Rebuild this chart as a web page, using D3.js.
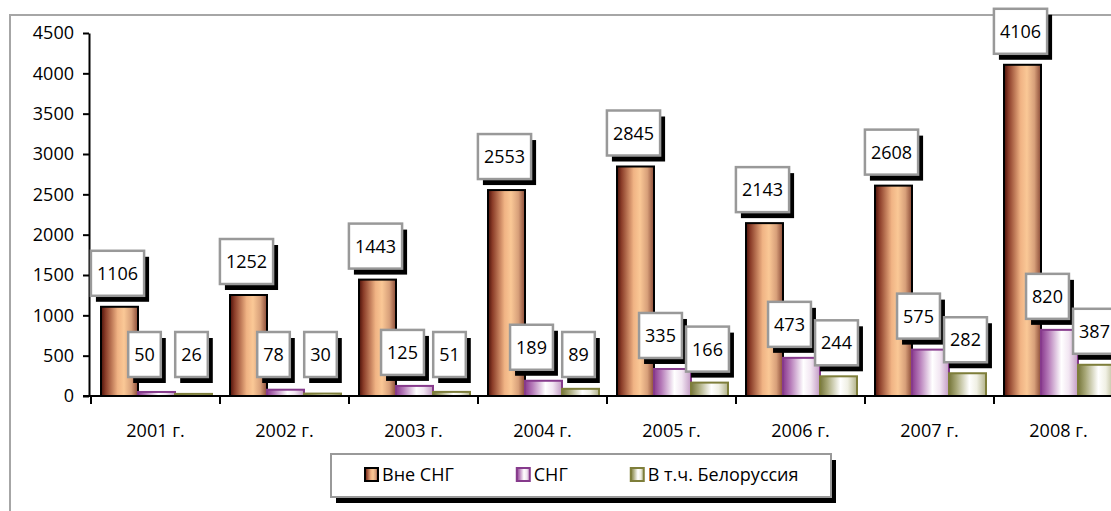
<!DOCTYPE html>
<html>
<head>
<meta charset="utf-8">
<script src="https://cdn.jsdelivr.net/npm/d3@7"></script>
<style>
  body { margin: 0; background: #fff; }
  text { font-family: "Open Sans", sans-serif; fill: #000; }
</style>
</head>
<body>
<div id="chart"></div>
<script>
var years = ["2001 г.", "2002 г.", "2003 г.", "2004 г.", "2005 г.", "2006 г.", "2007 г.", "2008 г."];
var seriesNames = ["Вне СНГ", "СНГ", "В т.ч. Белоруссия"];
var outsideCis = [1106, 1252, 1443, 2553, 2845, 2143, 2608, 4106];
var cis = [50, 78, 125, 189, 335, 473, 575, 820];
var belarus = [26, 30, 51, 89, 166, 244, 282, 387];
var yTicks = [0, 500, 1000, 1500, 2000, 2500, 3000, 3500, 4000, 4500];

var W = 1111, H = 511;
var fs = "18px";
var svg = d3.select("#chart").append("svg")
  .attr("width", W).attr("height", H);

var defs = svg.append("defs");
// gradients for each series
var grads = [
  {id: "g0", stroke: "#000", stops: [[0, "#4a1008"], [0.12, "#8a3c28"], [0.45, "#f0b384"], [0.62, "#fac896"], [0.82, "#d8a07a"], [1, "#8a4a36"]]},
  {id: "g1", stroke: "#863a8c", stops: [[0, "#8a3a8e"], [0.2, "#b57ab8"], [0.55, "#ffffff"], [0.75, "#f2e6f2"], [1, "#c29ac4"]]},
  {id: "g2", stroke: "#7e7e3a", stops: [[0, "#76763a"], [0.2, "#a8a878"], [0.55, "#ffffff"], [0.75, "#f0f0e4"], [1, "#b2b28a"]]}
];
// label nudge per series (CIS labels sit a bit left of their bars)
var labelShift = [-2, -12, -2];

grads.forEach(function(g) {
  var lg = defs.append("linearGradient").attr("id", g.id)
    .attr("x1", 0).attr("x2", 1).attr("y1", 0).attr("y2", 0);
  g.stops.forEach(function(s) {
    lg.append("stop").attr("offset", s[0]).attr("stop-color", s[1]);
  });
});

// outer chart border
svg.append("rect")
  .attr("x", 10).attr("y", 15)
  .attr("width", 1200).attr("height", 600)
  .attr("fill", "none").attr("stroke", "#a6a6a6").attr("stroke-width", 2);

var x = d3.scaleBand().domain(years).range([91, 1123]).padding(0);
var x1 = d3.scaleBand().domain([0, 1, 2]).range([10, 121]).padding(0);
var y = d3.scaleLinear().domain([0, 4500]).range([396, 33]);

var series = [outsideCis, cis, belarus];

// bars
var rows = [];
series.forEach(function(vals, si) {
  vals.forEach(function(v, i) {
    rows.push({s: si, year: years[i], v: v});
  });
});

svg.append("g").selectAll("rect")
  .data(rows)
  .enter()
  .append("rect")
  .attr("x", function(d) { return x(d.year) + x1(d.s); })
  .attr("y", function(d) { return y(d.v); })
  .attr("width", x1.bandwidth())
  .attr("height", function(d) { return y(0) - y(d.v); })
  .attr("fill", function(d) { return "url(#" + grads[d.s].id + ")"; })
  .attr("stroke", function(d) { return grads[d.s].stroke; })
  .attr("stroke-width", 2);

// y axis
var yAxis = svg.append("g")
  .attr("transform", "translate(89,0)")
  .call(d3.axisLeft(y).tickValues(yTicks).tickFormat(d3.format("d"))
    .tickSize(6).tickSizeOuter(0).tickPadding(9));
yAxis.select(".domain").attr("stroke", "#000").attr("stroke-width", 2);
yAxis.selectAll(".tick line").attr("stroke", "#000").attr("stroke-width", 2);
yAxis.selectAll(".tick text").style("font-family", "Open Sans").style("font-size", fs);

// x axis
svg.append("line")
  .attr("x1", 83).attr("x2", 1123)
  .attr("y1", y(0)).attr("y2", y(0))
  .attr("stroke", "#000").attr("stroke-width", 2);

svg.append("g").selectAll("line")
  .data(years)
  .enter()
  .append("line")
  .attr("x1", function(d) { return x(d); })
  .attr("x2", function(d) { return x(d); })
  .attr("y1", y(0)).attr("y2", y(0) + 8)
  .attr("stroke", "#000").attr("stroke-width", 2);

svg.append("g").selectAll("text")
  .data(years)
  .enter()
  .append("text")
  .attr("x", function(d) { return x(d) + x.bandwidth() / 2; })
  .attr("y", 437)
  .attr("text-anchor", "middle")
  .style("font-size", fs)
  .text(function(d) { return d; });

// data labels
var lab = svg.append("g").selectAll("g")
  .data(rows)
  .enter()
  .append("g");

lab.each(function(d) {
  var g = d3.select(this);
  var cx = x(d.year) + x1(d.s) + x1.bandwidth() / 2 + labelShift[d.s];
  var bottom = Math.min(y(d.v) - 11, y(0) - 19);
  var t = g.append("text")
    .attr("x", cx)
    .attr("y", bottom - 16)
    .attr("text-anchor", "middle")
    .style("font-size", fs)
    .text(d.v);
  var tw = t.node().getComputedTextLength();
  var bw = tw + 12, bh = 45;
  g.insert("rect", "text")
    .attr("x", cx - bw / 2 + 5).attr("y", bottom - bh + 6)
    .attr("width", bw).attr("height", bh)
    .attr("fill", "#000");
  g.insert("rect", "text")
    .attr("x", cx - bw / 2).attr("y", bottom - bh)
    .attr("width", bw).attr("height", bh)
    .attr("fill", "#fff")
    .attr("stroke", "#999").attr("stroke-width", 2.5);
});

// legend
var legend = svg.append("g");
legend.append("rect")
  .attr("x", 336).attr("y", 460).attr("width", 500).attr("height", 43)
  .attr("fill", "#000");
legend.append("rect")
  .attr("x", 331).attr("y", 454).attr("width", 500).attr("height", 43)
  .attr("fill", "#fff").attr("stroke", "#999").attr("stroke-width", 2);

var lx = 364;
seriesNames.forEach(function(name, i) {
  legend.append("rect")
    .attr("x", lx + 1).attr("y", 468)
    .attr("width", 13).attr("height", 13)
    .attr("fill", "url(#" + grads[i].id + ")")
    .attr("stroke", grads[i].stroke).attr("stroke-width", 2);
  var t = legend.append("text")
    .attr("x", lx + 18).attr("y", 481)
    .style("font-size", fs)
    .text(name);
  lx += 18 + t.node().getComputedTextLength() + 62;
});
</script>
</body>
</html>
